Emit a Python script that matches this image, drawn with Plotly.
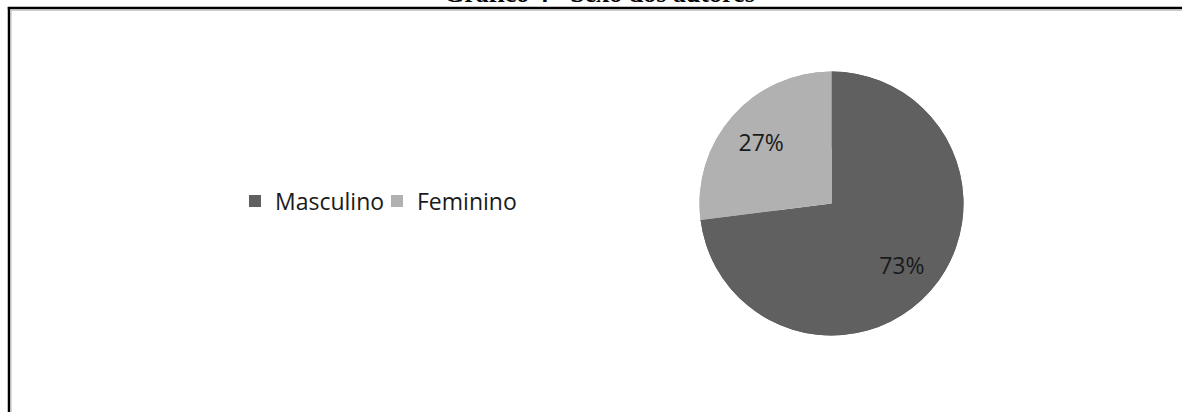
import plotly.graph_objects as go

labels = ["Masculino", "Feminino"]
values = [73, 27]
colors = ["#606060", "#b1b1b1"]
title_text = "Gráfico 4 - Sexo dos autores"

W, H = 1182, 412
cx, cy, R = 831.5, 203.5, 132
dom = dict(x=[(cx - R) / W, (cx + R) / W], y=[1 - (cy + R) / H, 1 - (cy - R) / H])
label_font = dict(family="Open Sans", size=23, color="#1a1a1a")

fig = go.Figure()
# full pie (the visible slices + legend)
fig.add_trace(go.Pie(
    labels=labels, values=values, sort=False, direction="clockwise", rotation=0,
    marker=dict(colors=colors, line=dict(width=0)),
    textinfo="none", domain=dom, hoverinfo="label+percent", showlegend=True,
))
# overlay ring carrying the percentage labels at ~0.7 R
fig.add_trace(go.Pie(
    labels=labels, values=values, sort=False, direction="clockwise", rotation=0,
    hole=0.42,
    marker=dict(colors=colors, line=dict(width=0)),
    texttemplate="%{percent:.0%}", textposition="inside",
    insidetextorientation="horizontal",
    textfont=label_font, domain=dom, hoverinfo="skip", showlegend=False,
))

shapes = [
    dict(type="line", xref="paper", yref="paper", x0=9 / W, x1=9 / W, y0=0, y1=1 - 7 / H,
         line=dict(color="black", width=2.5)),
    dict(type="line", xref="paper", yref="paper", x0=7.8 / W, x1=1, y0=1 - 8 / H, y1=1 - 8 / H,
         line=dict(color="black", width=2.5)),
    dict(type="line", xref="paper", yref="paper", x0=10.8 / W, x1=10.8 / W, y0=0, y1=1 - 9.5 / H,
         line=dict(color="#bdbdbd", width=1.5)),
    dict(type="line", xref="paper", yref="paper", x0=10.3 / W, x1=1, y0=1 - 10 / H, y1=1 - 10 / H,
         line=dict(color="#bdbdbd", width=1.5)),
]

fig.update_layout(
    width=W, height=H, autosize=False,
    margin=dict(l=0, r=0, t=0, b=0),
    paper_bgcolor="white", plot_bgcolor="white",
    showlegend=True,
    legend=dict(
        orientation="h", x=(253 - 18) / W, y=1 - 201 / H, xanchor="left", yanchor="middle",
        font=label_font, bgcolor="rgba(0,0,0,0)",
        entrywidth=97, entrywidthmode="pixels",
        itemclick=False, itemdoubleclick=False, traceorder="normal",
    ),
    shapes=shapes,
    annotations=[dict(
        text="<b>" + title_text + "</b>", xref="paper", yref="paper",
        x=599 / W, y=1 - 9.5 / H, xanchor="center", yanchor="bottom", showarrow=False,
        font=dict(family="Liberation Serif", size=26, color="black"),
    )],
)

fig.write_html("out.html", config={"displayModeBar": False},
               post_script="document.body.style.margin='0px';")
